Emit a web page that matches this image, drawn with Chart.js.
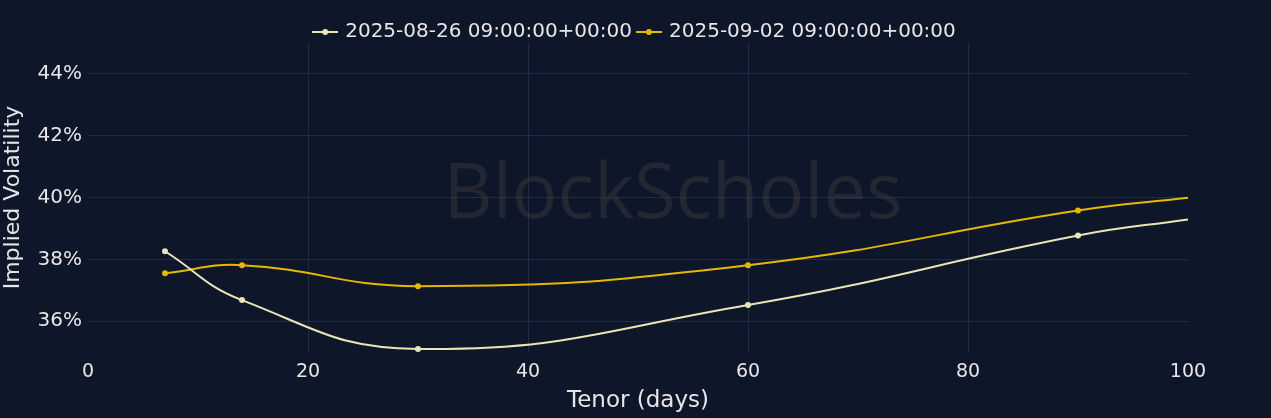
<!DOCTYPE html>
<html>
<head>
<meta charset="utf-8">
<script src="https://cdn.jsdelivr.net/npm/chart.js@4"></script>
<style>
  html, body { margin: 0; padding: 0; background: #0e1629; }
  canvas { display: block; }
</style>
</head>
<body>
<canvas id="ivChart" width="1271" height="418"></canvas>
<script>
// tenor in days
const tenors = [7, 14, 30, 60, 90, 100];
const ivAug26 = [38.26, 36.68, 35.10, 36.52, 38.77, 39.29];
const ivSep02 = [37.55, 37.81, 37.13, 37.81, 39.58, 39.99];
const seriesLabels = ['2025-08-26 09:00:00+00:00', '2025-09-02 09:00:00+00:00'];
const yTicks = [36, 38, 40, 42, 44];

const BG = '#0e1629';
const GRID = '#1f2c4a';
const TEXT = '#e6e6e6';
const CREAM = '#e9e6b4';
const GOLD = '#e6b800';

const legendIcon = (color) => {
  const c = document.createElement('canvas');
  c.width = 26; c.height = 10;
  const g = c.getContext('2d');
  g.strokeStyle = color; g.lineWidth = 2;
  g.beginPath(); g.moveTo(0, 5); g.lineTo(26, 5); g.stroke();
  g.fillStyle = color;
  g.beginPath(); g.arc(13, 5, 3, 0, Math.PI * 2); g.fill();
  return c;
};

const toPoints = (ys) => tenors.map((t, i) => ({ x: t, y: ys[i] }));
// last point only extends the curve to the edge, no marker
const radii = tenors.map((t, i) => (i === tenors.length - 1 ? 0 : 3));

const bgPlugin = {
  id: 'bg',
  afterInit(chart) {
    // pull the plot up closer to the legend
    const lg = chart.legend;
    if (lg) {
      const fit = lg.fit;
      lg.fit = function () { fit.call(this); this.height -= 9; };
    }
  },
  beforeDraw(chart) {
    const ctx = chart.ctx;
    ctx.save();
    ctx.fillStyle = BG;
    ctx.fillRect(0, 0, chart.width, chart.height);
    ctx.restore();
  },
  beforeDatasetsDraw(chart) {
    const ctx = chart.ctx;
    ctx.save();
    ctx.fillStyle = 'rgba(60, 60, 62, 0.45)';
    ctx.font = '400 76px "Open Sans", "DejaVu Sans", sans-serif';
    ctx.textAlign = 'center';
    ctx.textBaseline = 'middle';
    ctx.fillText('BlockScholes', 673, 196);
    ctx.restore();
  }
};

new Chart(document.getElementById('ivChart'), {
  type: 'line',
  data: {
    datasets: [
      {
        label: seriesLabels[0],
        data: toPoints(ivAug26),
        borderColor: CREAM,
        backgroundColor: CREAM,
        borderWidth: 2,
        pointRadius: radii,
        pointHoverRadius: radii,
        pointBorderWidth: 0,
        tension: 0.45
      },
      {
        label: seriesLabels[1],
        data: toPoints(ivSep02),
        borderColor: GOLD,
        backgroundColor: GOLD,
        borderWidth: 2,
        pointRadius: radii,
        pointHoverRadius: radii,
        pointBorderWidth: 0,
        tension: 0.45
      }
    ]
  },
  options: {
    responsive: false,
    animation: false,
    layout: { padding: { left: 0, right: 0, top: 15, bottom: 0 } },
    plugins: {
      legend: {
        position: 'top',
        labels: {
          color: TEXT,
          font: { family: 'DejaVu Sans', size: 20 },
          usePointStyle: true,
          boxHeight: 10,
          padding: 7,
          generateLabels(chart) {
            return chart.data.datasets.map((ds, i) => ({
              text: ds.label,
              fontColor: TEXT,
              pointStyle: legendIcon(ds.borderColor),
              datasetIndex: i,
              lineWidth: 0,
              strokeStyle: 'transparent',
              fillStyle: 'transparent'
            }));
          }
        }
      },
      tooltip: { enabled: false }
    },
    scales: {
      x: {
        type: 'linear',
        min: 0,
        max: 100,
        ticks: { stepSize: 20, color: TEXT, font: { family: 'DejaVu Sans', size: 19 }, padding: 9 },
        grid: {
          color: (c) => (c.tick && (c.tick.value === 0 || c.tick.value === 100) ? 'transparent' : GRID),
          drawTicks: false
        },
        border: { display: false },
        title: { display: true, text: 'Tenor (days)', color: TEXT, font: { family: 'DejaVu Sans', size: 23 }, padding: { top: 0, bottom: 3 } },
        afterFit(scale) { scale.height = 66; }
      },
      y: {
        min: 35,
        max: 45,
        afterBuildTicks(scale) { scale.ticks = yTicks.map(v => ({ value: v })); },
        ticks: {
          color: TEXT,
          font: { family: 'DejaVu Sans', size: 20 },
          padding: 6,
          callback: (v) => v + '%'
        },
        grid: { color: GRID, drawTicks: false },
        border: { display: false },
        title: { display: true, text: 'Implied Volatility', color: TEXT, font: { family: 'DejaVu Sans', size: 22 }, padding: { top: 0, bottom: 8 } },
        afterFit(scale) { scale.width = 88; }
      },
      yRight: {
        position: 'right',
        min: 35,
        max: 45,
        ticks: { display: false },
        grid: { display: false },
        border: { display: false },
        afterFit(scale) { scale.width = 83; }
      }
    }
  },
  plugins: [bgPlugin]
});
</script>
</body>
</html>
